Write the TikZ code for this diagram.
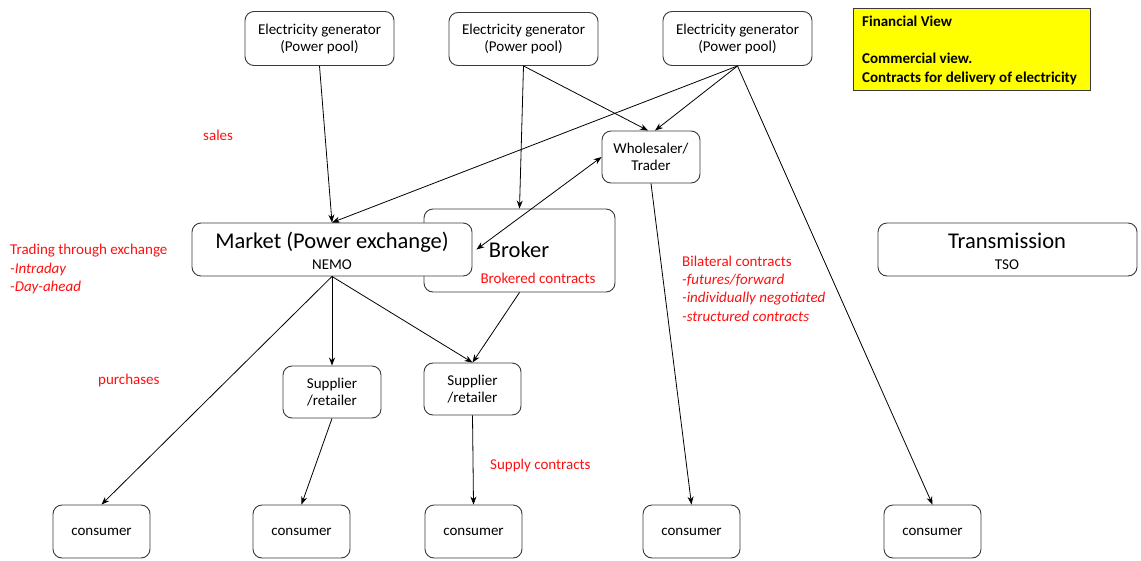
\documentclass[tikz,border=0pt]{standalone}
\usepackage{fontspec}
\setmainfont{Carlito}
\usetikzlibrary{arrows.meta,calc}
\definecolor{notered}{HTML}{FF1010}
\definecolor{boxline}{HTML}{3A3A3A}
\definecolor{notebg}{HTML}{FFFF00}
\tikzset{
  entity/.style={draw=boxline, line width=0.9pt, rounded corners=9pt, fill=white,
    align=center, inner sep=0pt, font=\fontsize{15}{17}\selectfont},
  bigentity/.style={entity},
  bigtext/.style={anchor=base, inner sep=0pt, font=\fontsize{22.5}{26}\selectfont},
  smalltext/.style={anchor=base, inner sep=0pt, font=\fontsize{15}{17}\selectfont},
  note/.style={text=notered, align=left, anchor=west, inner sep=0pt,
    font=\fontsize{15}{18.3}\selectfont},
  flow/.style={draw=black, line width=0.8pt, -{Stealth[length=8pt,width=6pt]}},
  dflow/.style={flow, {Stealth[length=8pt,width=6pt]}-{Stealth[length=8pt,width=6pt]}}
}
\begin{document}
\begin{tikzpicture}[x=1pt,y=-1pt]
\useasboundingbox (0,0) rectangle (1141,560);

% generators
\node[entity, minimum width=149pt, minimum height=54pt] (g1) at (319.5,38.5) {Electricity generator\\(Power pool)};
\node[entity, minimum width=149pt, minimum height=53pt] (g2) at (523.5,39) {Electricity generator\\(Power pool)};
\node[entity, minimum width=149pt, minimum height=54pt] (g3) at (737.5,38.5) {Electricity generator\\(Power pool)};

% legend
\node[draw=boxline, line width=0.9pt, fill=notebg, minimum width=237pt, minimum height=82pt,
      inner sep=0pt] (legend) at (971.5,49) {};
\node[anchor=north west, align=left, inner sep=0pt, font=\bfseries\fontsize{15}{18.5}\selectfont]
  (legendtext) at (862,16) {Financial View\\[0pt]\\Commercial view.\\Contracts for delivery of electricity};

% trader
\node[entity, minimum width=98pt, minimum height=52pt] (w) at (651,157) {Wholesaler/\\Trader};

% broker behind the exchange
\node[bigentity, minimum width=191pt, minimum height=83pt] (b) at (519.5,250.5) {};
\node[bigtext] (btitle) at (519,257) {Broker};
\node[smalltext, text=notered] (bnote) at (538,283) {Brokered contracts};

\node[bigentity, minimum width=280pt, minimum height=53pt] (m) at (332,249.5) {};
\node[bigtext] (mtitle) at (332,248) {Market (Power exchange)};
\node[smalltext] (msub) at (332,269) {NEMO};

\node[bigentity, minimum width=259pt, minimum height=53pt] (t) at (1007.5,249.5) {};
\node[bigtext] (ttitle) at (1007,248) {Transmission};
\node[smalltext] (tsub) at (1007,269) {TSO};

% suppliers
\node[entity, minimum width=98pt, minimum height=52pt] (s1) at (332,392) {Supplier\\/retailer};
\node[entity, minimum width=97pt, minimum height=52pt] (s2) at (472.5,389) {Supplier\\/retailer};

% consumers
\node[entity, minimum width=97pt, minimum height=53pt] (c1) at (101.5,531.5) {consumer};
\node[entity, minimum width=97pt, minimum height=53pt] (c2) at (301.5,531.5) {consumer};
\node[entity, minimum width=97pt, minimum height=53pt] (c3) at (473.5,531.5) {consumer};
\node[entity, minimum width=97pt, minimum height=53pt] (c4) at (691.5,531.5) {consumer};
\node[entity, minimum width=97pt, minimum height=53pt] (c5) at (932.5,531.5) {consumer};

% annotations
\node[note] (sales) at (203,135) {sales};
\node[note] (exch) at (10,269) {Trading through exchange\\\itshape -Intraday\\\itshape -Day-ahead};
\node[note] (purch) at (98,380) {purchases};
\node[note] (bilat) at (682,288.5) {Bilateral contracts\\\itshape -futures/forward\\\itshape -individually negotiated\\\itshape -structured contracts};
\node[note] (supply) at (490,465) {Supply contracts};

% contract flows
\draw[flow] (g1.south) -- (m.north);
\draw[flow] (g3.south) -- (m.north);
\draw[flow] (g2.south) -- (b.north);
\draw[flow] (g2.south) -- ($(w.north)+(-3,0)$);
\draw[flow] (g3.south) -- ($(w.north)+(4,0)$);
\draw[flow] (g3.south) -- (c5.north);
\draw[flow] (w.south) -- (c4.north);
\draw[dflow] ($(m.east)+(4,0)$) -- (w.west);
\draw[flow] (m.south) -- (c1.north);
\draw[flow] (m.south) -- (s1.north);
\draw[flow] (m.south) -- (s2.north);
\draw[flow] (b.south) -- (s2.north);
\draw[flow] (s1.south) -- (c2.north);
\draw[flow] (s2.south) -- (c3.north);
\end{tikzpicture}
\end{document}
